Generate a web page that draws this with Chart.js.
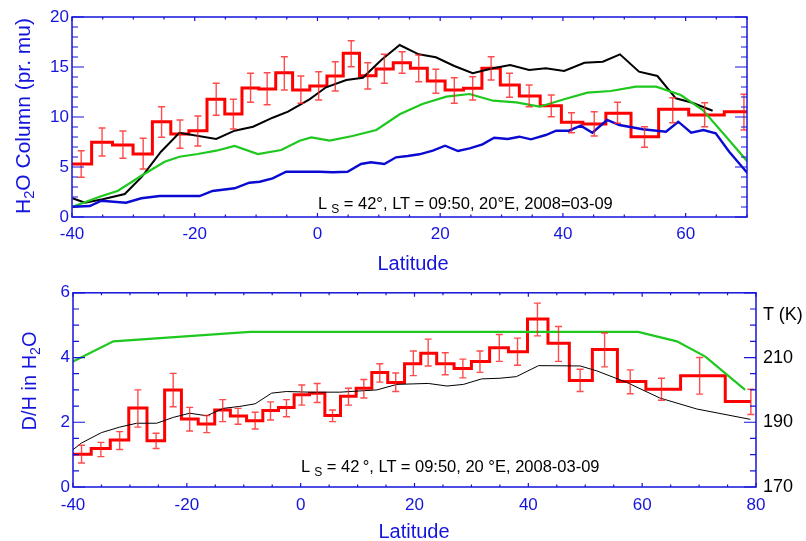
<!DOCTYPE html>
<html>
<head>
<meta charset="utf-8">
<script src="https://cdn.jsdelivr.net/npm/chart.js@4/dist/chart.umd.min.js"></script>
<style>
  body { margin: 0; background: #fff; }
  #wrap { position: relative; width: 806px; height: 541px; font-family: 'Liberation Sans', Arial, sans-serif; }
  .pane { position: absolute; left: 0; width: 806px; }
  .txt { position: absolute; white-space: nowrap; line-height: 1; }
  .blue { color: rgb(20,20,220); }
  .rot { transform: translate(-50%, -50%) rotate(-90deg); }
  .ctr { transform: translate(-50%, -50%); }
  .sub { font-size: 0.7em; position: relative; top: 0.3em; }
</style>
</head>
<body>
<div id="wrap">
  <div class="pane" style="top:0;height:275px"><canvas id="topChart"></canvas></div>
  <div class="pane" style="top:275px;height:266px"><canvas id="botChart"></canvas></div>

  <div class="txt blue rot" style="left:22px;top:116px;font-size:21px">H<span class="sub">2</span>O Column (pr. mu)</div>
  <div class="txt blue ctr" style="left:413px;top:263px;font-size:20px">Latitude</div>
  <div class="txt" style="left:318px;top:195px;font-size:16.5px">L<span class="sub" style="margin-left:4px;font-size:12px">S</span> = 42°, LT = 09:50, 20°E, 2008=03-09</div>

  <div class="txt blue rot" style="left:29px;top:381px;font-size:20px">D/H in H<span class="sub">2</span>O</div>
  <div class="txt blue ctr" style="left:414px;top:531px;font-size:20px">Latitude</div>
  <div class="txt" style="left:301px;top:458px;font-size:16.5px">L<span class="sub" style="margin-left:4px;font-size:12px">S</span> = 42&#8201;°, LT = 09:50, 20 °E, 2008-03-09</div>
  <div class="txt" style="left:763px;top:305px;font-size:18px">T (K)</div>
</div>

<script>
// ── Top panel: H2O column ─────────────────────────────────────────
const topBinLat = [-38.5, -35.1, -31.7, -28.4, -25.4, -22.4, -19.5, -16.5, -13.7, -10.9, -8.2, -5.4,
                   -2.7, 0.2, 2.9, 5.5, 8.2, 10.9, 13.8, 16.5, 19.3, 22.3, 25.3, 28.3, 31.3, 34.5,
                   38.1, 41.4, 45.1, 48.9, 53.3, 57.9, 63.1, 69.5];
const topH2O   = [5.3, 7.47, 7.2, 6.3, 9.53, 8.3, 8.63, 11.77, 10.3, 12.9, 12.8, 14.43, 12.7, 13.1,
                  14.1, 16.37, 14.13, 14.8, 15.43, 14.87, 13.6, 12.7, 12.87, 14.87, 13.2, 12.1,
                  11.13, 9.47, 9.3, 10.37, 8.03, 10.77, 10.2, 10.53];
const topH2OHi = [6.63, 8.9, 8.6, 7.87, 11.03, 9.7, 10.1, 13.37, 11.77, 14.37, 14.43, 16.03, 14.1, 14.53,
                  15.53, 17.63, 15.43, 16.27, 16.53, 16.2, 14.77, 13.93, 14.03, 16.03, 14.37, 13.2,
                  12.2, 10.43, 10.53, 11.47, 9.03, 11.93, 11.43, 12.27];
const topH2OLo = [3.97, 6.1, 5.87, 4.8, 7.97, 6.87, 7.1, 10.17, 8.8, 11.47, 11.23, 12.7, 11.37, 11.7,
                  12.6, 15.03, 12.8, 13.37, 14.37, 13.53, 12.37, 11.37, 11.7, 13.7, 11.97, 11.03,
                  10.03, 8.43, 8.1, 9.37, 6.97, 9.43, 9.03, 8.7];

const blackLat = [-39.9, -37.9, -35.0, -31.4, -28.6, -25.5, -22.5, -16.5, -13.5, -10.5, -7.3, -4.8, -1.3,
                  1.4, 4.7, 7.4, 10.4, 13.4, 16.5, 19.3, 22.3, 25.3, 28.6, 31.4, 34.5, 37.2, 40.2,
                  43.5, 46.5, 49.3, 52.4, 55.4, 58.4, 61.1, 64.4];
const blackH2O = [1.87, 1.43, 1.77, 2.3, 4.03, 6.53, 8.43, 7.8, 8.63, 9.03, 9.93, 10.53, 11.77,
                  12.97, 13.7, 13.93, 15.7, 17.2, 16.27, 15.97, 15.1, 14.37, 14.87, 15.2, 14.7, 14.87, 14.6,
                  15.43, 15.53, 16.27, 14.53, 14.1, 11.87, 11.43, 10.63];

const greenLat = [-39.9, -35.5, -32.5, -28.5, -24.9, -22.5, -19.5, -16.5, -13.5, -9.7, -5.9, -2.9, -1.0,
                  2.0, 5.7, 9.6, 13.4, 17.1, 21.0, 24.8, 28.6, 32.4, 36.2, 40.2, 44.0, 47.8, 51.9,
                  55.2, 59.2, 62.8, 66.6, 70.1];
const greenH2O = [1.03, 2.03, 2.63, 4.2, 5.53, 6.03, 6.3, 6.63, 7.1, 6.3, 6.7, 7.63, 7.95,
                  7.63, 8.1, 8.7, 10.27, 11.3, 12.03, 12.3, 11.63, 11.47, 11.03, 11.77, 12.43, 12.6, 13.03,
                  13.03, 12.2, 10.7, 8.03, 5.53];

const blueLat = [-39.9, -37.1, -35.2, -31.2, -28.7, -25.7, -19.2, -17.1, -13.5, -11.1, -9.4, -7.3, -5.1,
                 -1.3, 0.3, 2.5, 4.9, 7.1, 8.7, 10.9, 12.8, 14.7, 16.6, 18.8, 20.8, 22.9, 24.8, 26.9,
                 28.8, 31.0, 32.9, 34.8, 37.2, 38.9, 41.0, 42.9, 44.8, 47.2, 49.2, 53.0, 56.8, 58.8,
                 60.9, 62.9, 64.9, 67.1, 70.1];
const blueH2O = [1.03, 1.1, 1.63, 1.43, 1.87, 2.1, 2.1, 2.6, 2.87, 3.43, 3.53, 3.87, 4.53,
                 4.53, 4.53, 4.47, 4.53, 5.3, 5.47, 5.3, 5.97, 6.1, 6.27, 6.63, 7.13, 6.6, 6.87, 7.27,
                 7.93, 7.8, 8.03, 7.77, 8.2, 8.63, 8.63, 9.13, 8.43, 9.7, 9.2, 8.77, 8.53, 9.53,
                 8.43, 8.7, 8.37, 6.53, 4.37];

const topXTicks = [-40, -20, 0, 20, 40, 60];
const topYTicks = [0, 5, 10, 15, 20];

// ── Bottom panel: D/H ─────────────────────────────────────────────
const botBinLat = [-38.5, -35.1, -31.8, -28.6, -25.4, -22.4, -19.5, -16.5, -13.7, -11.0, -8.0, -5.3,
                   -2.5, 0.2, 2.9, 5.6, 8.4, 11.1, 13.9, 16.7, 19.8, 22.4, 25.4, 28.5, 31.5, 34.9,
                   38.1, 41.6, 45.3, 49.1, 53.4, 57.9, 63.4, 70.1, 79.1];
const botDH   = [1.01, 1.19, 1.45, 2.44, 1.43, 3.0, 2.1, 1.95, 2.38, 2.19, 2.05, 2.36, 2.46, 2.85,
                 2.9, 2.21, 2.8, 3.05, 3.54, 3.23, 3.81, 4.13, 3.81, 3.66, 3.88, 4.3, 4.18, 5.19,
                 4.44, 3.29, 4.25, 3.26, 3.02, 3.44, 2.64];
const botDHHi = [1.29, 1.38, 1.71, 3.0, 1.66, 3.51, 2.46, 2.21, 2.7, 2.43, 2.31, 2.63, 2.7, 3.15,
                 3.2, 2.38, 3.05, 3.32, 3.81, 3.52, 4.2, 4.57, 4.15, 3.95, 4.2, 4.71, 4.6, 5.68,
                 4.96, 3.64, 4.76, 3.62, 3.36, 4.0, 3.02];
const botDHLo = [0.74, 0.94, 1.16, 1.85, 1.19, 2.48, 1.73, 1.68, 2.02, 1.94, 1.79, 2.07, 2.17, 2.53,
                 2.61, 2.02, 2.53, 2.75, 3.24, 2.95, 3.44, 3.74, 3.47, 3.37, 3.54, 3.88, 3.76, 4.67,
                 3.88, 2.95, 3.71, 2.88, 2.68, 2.87, 2.24];

const modelDHLat = [-40.1, -38.5, -35.0, -31.8, -28.8, -25.3, -22.4, -19.5, -16.5, -13.6, -10.7, -8.0,
                    -5.1, -2.5, 1.6, 6.9, 13.4, 16.9, 22.4, 25.7, 28.6, 31.8, 35.0, 37.9, 41.8, 49.1,
                    52.0, 57.3, 63.1, 69.6, 79.0];
const modelDH    = [1.14, 1.36, 1.68, 1.85, 1.97, 1.97, 2.15, 2.28, 2.2, 2.43, 2.49, 2.57,
                    2.9, 2.95, 2.93, 2.93, 3.0, 3.17, 3.2, 3.12, 3.17, 3.34, 3.36, 3.41, 3.75, 3.74,
                    3.59, 3.23, 2.75, 2.41, 2.09];

const tempLat = [-40, -32.9, -8.9, 59.3, 66.1, 71.1, 78.1];
const tempK   = [208.8, 215, 217.9, 217.9, 215, 210.3, 200];

const botXTicks = [-40, -20, 0, 20, 40, 60, 80];
const botYTicks = [0, 2, 4, 6];
const tempTicks = [170, 190, 210];

// ── Shared styling ────────────────────────────────────────────────
const FONT = "'Liberation Sans', Arial, sans-serif";
const AXIS_BLUE = 'rgb(20,20,220)';

const pts = (xs, ys) => xs.map((x, i) => ({ x, y: ys[i] }));

// step outline: centers plus outer edges, drawn with stepped:'middle'
function stepPts(xs, ys, extendRight) {
  const p = pts(xs, ys);
  const n = xs.length;
  p.unshift({ x: xs[0] - (xs[1] - xs[0]) / 2, y: ys[0] });
  if (extendRight) p.push({ x: xs[n - 1] + (xs[n - 1] - xs[n - 2]) / 2, y: ys[n - 1] });
  return p;
}

function line(data, color, width, order) {
  return { data, borderColor: color, borderWidth: width, pointRadius: 0, tension: 0, order };
}

function axis(min, max, tickVals, extra, pad) {
  return Object.assign({
    type: 'linear', min, max,
    grid: { display: false, drawTicks: false },
    border: { display: false },
    ticks: { color: AXIS_BLUE, font: { family: FONT, size: 17 }, autoSkip: false, maxRotation: 0, padding: pad || 3 },
    afterBuildTicks: s => { s.ticks = tickVals.map(v => ({ value: v })); }
  }, extra);
}

// error bars with small caps, through the chart's scales
const errorBars = {
  id: 'errorBars',
  afterDatasetsDraw(chart) {
    const { ctx, chartArea: a } = chart;
    const xs = chart.scales.x, ys = chart.scales.y;
    ctx.save();
    ctx.beginPath();
    ctx.rect(a.left, a.top, a.right - a.left, a.bottom - a.top);
    ctx.clip();
    ctx.strokeStyle = 'rgba(255,30,30,0.8)';
    ctx.lineWidth = 1.4;
    chart.data.datasets.forEach(ds => {
      if (!ds.errX) return;
      ds.errX.forEach((lat, i) => {
        const px = xs.getPixelForValue(lat);
        const hi = ys.getPixelForValue(ds.errHi[i]);
        const lo = ys.getPixelForValue(ds.errLo[i]);
        ctx.beginPath();
        ctx.moveTo(px, hi); ctx.lineTo(px, lo);
        ctx.moveTo(px - 3.5, hi); ctx.lineTo(px + 3.5, hi);
        ctx.moveTo(px - 3.5, lo); ctx.lineTo(px + 3.5, lo);
        ctx.stroke();
      });
    });
    ctx.restore();
  }
};

// IDL-like box with inward ticks
function frame(spec) {
  return {
    id: 'frame',
    afterDraw(chart) {
      const { ctx, chartArea: a } = chart;
      const sx = chart.scales.x, sy = chart.scales.y;
      ctx.save();
      ctx.strokeStyle = AXIS_BLUE;
      ctx.lineWidth = 1.5;
      ctx.strokeRect(a.left, a.top, a.right - a.left, a.bottom - a.top);
      ctx.lineWidth = 1.2;
      ctx.beginPath();
      const tick = (scale, step, major, horiz, edges) => {
        const n = Math.round((scale.max - scale.min) / step);
        for (let k = 0; k <= n; k++) {
          const v = scale.min + k * step;
          const isMajor = Math.abs((v - major.base) / major.step - Math.round((v - major.base) / major.step)) < 1e-6;
          const len = isMajor ? major.long : major.short;
          const p = scale.getPixelForValue(v);
          edges.forEach(([e, dir]) => {
            if (horiz) { ctx.moveTo(p, e); ctx.lineTo(p, e + dir * len); }
            else { ctx.moveTo(e, p); ctx.lineTo(e + dir * len, p); }
          });
        }
      };
      tick(sx, spec.xMinor, { base: 0, step: spec.xMajor, long: 4, short: 2.5 }, true,
           [[a.bottom, -1], [a.top, 1]]);
      tick(sy, spec.yMinor, { base: 0, step: spec.yMajor, long: 12, short: 6 }, false,
           spec.mirrorY ? [[a.left, 1], [a.right, -1]] : [[a.left, 1]]);
      if (spec.right) {
        const sr = chart.scales[spec.right];
        tick(sr, spec.rMinor, { base: sr.min, step: spec.rMajor, long: 12, short: 6 }, false,
             [[a.right, -1]]);
      }
      ctx.stroke();
      ctx.restore();
    }
  };
}

const common = {
  responsive: true,
  maintainAspectRatio: false,
  animation: false,
  devicePixelRatio: 1,
  plugins: { legend: { display: false }, tooltip: { enabled: false } }
};

// ── Top chart ─────────────────────────────────────────────────────
new Chart(document.getElementById('topChart'), {
  type: 'line',
  data: {
    datasets: [
      Object.assign(line(stepPts(topBinLat, topH2O, true), '#ff0000', 3, 4),
        { stepped: 'middle', errX: topBinLat, errHi: topH2OHi, errLo: topH2OLo }),
      line(pts(blackLat, blackH2O), '#000000', 2, 3),
      line(pts(greenLat, greenH2O), '#1ec81e', 2.2, 2),
      line(pts(blueLat, blueH2O), '#0a0ad2', 2.4, 1)
    ]
  },
  options: Object.assign({}, common, {
    layout: { padding: { top: 17, right: 59, left: 0, bottom: 0 } },
    scales: {
      x: axis(-40, 70, topXTicks, { afterFit: s => { s.height = 58; } }, 7),
      y: axis(0, 20, topYTicks, { afterFit: s => { s.width = 72; } })
    }
  }),
  plugins: [errorBars, frame({ xMinor: 5, xMajor: 20, yMinor: 1, yMajor: 5, mirrorY: true })]
});

// ── Bottom chart ──────────────────────────────────────────────────
const botY = axis(0, 6, botYTicks, { afterFit: s => { s.width = 73; } });
const tAxis = axis(170, 230, tempTicks, { position: 'right', afterFit: s => { s.width = 50; } });
tAxis.ticks = Object.assign({}, tAxis.ticks, { color: '#000', font: { family: FONT, size: 18 }, padding: 7 });

new Chart(document.getElementById('botChart'), {
  type: 'line',
  data: {
    datasets: [
      Object.assign(line(stepPts(botBinLat, botDH, false), '#ff0000', 3, 4),
        { stepped: 'middle', errX: botBinLat, errHi: botDHHi, errLo: botDHLo }),
      line(pts(modelDHLat, modelDH), '#000000', 1, 3),
      Object.assign(line(pts(tempLat, tempK), '#1ec81e', 2.2, 2), { yAxisID: 't' })
    ]
  },
  options: Object.assign({}, common, {
    layout: { padding: { top: 8, right: 0, left: 0, bottom: 0 } },
    scales: {
      x: axis(-40, 80, botXTicks, { afterFit: s => { s.height = 54; } }, 8),
      y: botY,
      t: tAxis
    }
  }),
  plugins: [errorBars, frame({ xMinor: 5, xMajor: 20, yMinor: 0.5, yMajor: 2, right: 't', rMinor: 5, rMajor: 20 })]
});
</script>
</body>
</html>
